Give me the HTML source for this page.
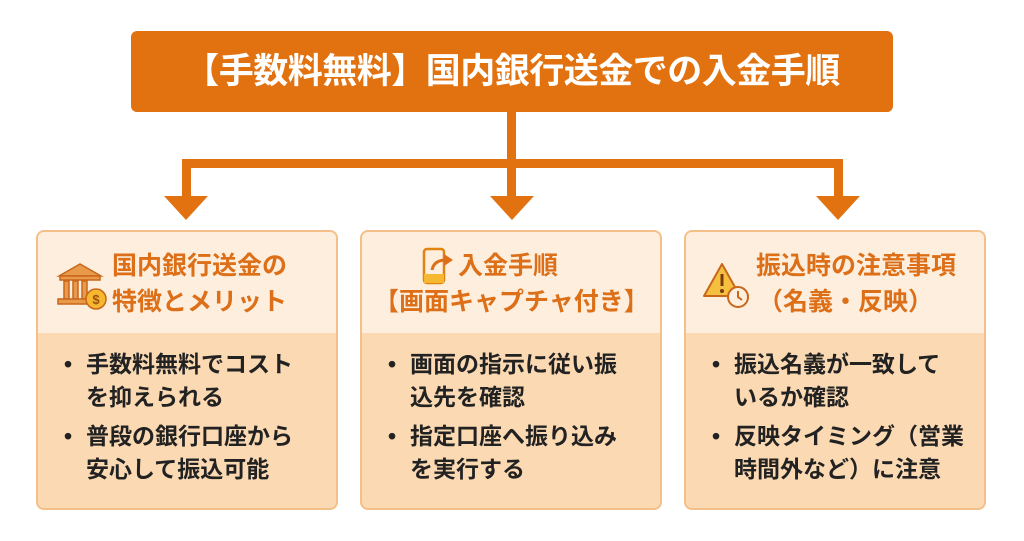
<!DOCTYPE html>
<html><head><meta charset="utf-8"><style>
body{margin:0;width:1024px;height:541px;background:#fff;position:relative;overflow:hidden;font-family:"Liberation Sans","Noto Sans CJK JP",sans-serif;}
.title{position:absolute;left:131px;top:31px;width:762px;height:81px;background:#e2720f;border-radius:6px;color:#fff;font-weight:bold;font-size:35px;line-height:81px;text-align:center;letter-spacing:-0.5px;}
.box{position:absolute;top:230px;width:302px;height:280px;border:2px solid #f3c08a;border-radius:8px;background:#fbd9b3;overflow:hidden;box-sizing:border-box;}
.hd{position:absolute;left:0;top:0;width:100%;height:101px;background:#fdeedd;}
.ht{position:absolute;color:#dc6f17;font-weight:bold;font-size:25px;line-height:36px;white-space:nowrap;}
.bd{position:absolute;left:22px;top:116px;font-weight:bold;font-size:23px;line-height:33px;color:#222;white-space:nowrap;}
.bd div{padding-left:26px;position:relative;margin-bottom:6px;}
.bd div:before{content:"•";position:absolute;left:4px;}
</style></head><body>
<div class="title">【手数料無料】国内銀行送金での入金手順</div>
<svg style="position:absolute;left:0;top:0" width="1024" height="541">
<g fill="#e2720f">
<rect x="507" y="112" width="9" height="56"/>
<rect x="182" y="159" width="660" height="9"/>
<rect x="182" y="159" width="9" height="42"/>
<rect x="507" y="159" width="9" height="42"/>
<rect x="834" y="159" width="9" height="42"/>
<polygon points="164,196 208,196 186,220"/>
<polygon points="490,196 534,196 512,220"/>
<polygon points="816,196 860,196 838,220"/>
</g></svg>
<div class="box" style="left:36px"><div class="hd"></div>
<svg style="position:absolute;left:18px;top:30px" width="52" height="50"><g fill="#e89a4a" stroke="#c8661a" stroke-width="1.5"><polygon points="3,14 24,2 45,14"/><rect x="4" y="14" width="40" height="4"/><rect x="8" y="19" width="5" height="18"/><rect x="17" y="19" width="5" height="18"/><rect x="26" y="19" width="5" height="18"/><rect x="2" y="37" width="38" height="5"/></g><circle cx="40" cy="37" r="10" fill="#f5b830" stroke="#c8661a" stroke-width="1.5"/><text x="40" y="42" font-size="13" text-anchor="middle" fill="#a0500f" font-weight="bold">$</text></svg>
<div class="ht" style="left:74px;top:16px">国内銀行送金の<br>特徴とメリット</div>
<div class="bd"><div>手数料無料でコスト<br>を抑えられる</div><div>普段の銀行口座から<br>安心して振込可能</div></div></div>
<div class="box" style="left:360px"><div class="hd"></div>
<svg style="position:absolute;left:58px;top:14px" width="36" height="42"><rect x="4" y="3" width="20" height="34" rx="3" fill="none" stroke="#e2820f" stroke-width="2.5"/><rect x="4" y="28" width="20" height="9" fill="#f5b830"/><path d="M12 24 Q14 14 26 14" fill="none" stroke="#dc6f17" stroke-width="3"/><polygon points="24,8 33,14 24,20" fill="#dc6f17"/></svg>
<div class="ht" style="left:96px;top:16px">入金手順</div>
<div class="ht" style="left:12px;top:52px">【画面キャプチャ付き】</div>
<div class="bd"><div>画面の指示に従い振<br>込先を確認</div><div>指定口座へ振り込み<br>を実行する</div></div></div>
<div class="box" style="left:684px"><div class="hd"></div>
<svg style="position:absolute;left:16px;top:28px" width="52" height="50"><polygon points="20,4 38,36 2,36" fill="#f5c040" stroke="#c8661a" stroke-width="2" stroke-linejoin="round"/><rect x="18.5" y="14" width="3" height="12" fill="#7a3d0a"/><circle cx="20" cy="31" r="2" fill="#7a3d0a"/><circle cx="36" cy="37" r="10" fill="#fdeedd" stroke="#c8661a" stroke-width="2"/><path d="M36 31 V37 L40 40" stroke="#c8661a" stroke-width="2" fill="none"/></svg>
<div class="ht" style="left:70px;top:16px">振込時の注意事項</div>
<div class="ht" style="left:72px;top:52px">（名義・反映）</div>
<div class="bd"><div>振込名義が一致して<br>いるか確認</div><div>反映タイミング（営業<br>時間外など）に注意</div></div></div>
</body></html>
